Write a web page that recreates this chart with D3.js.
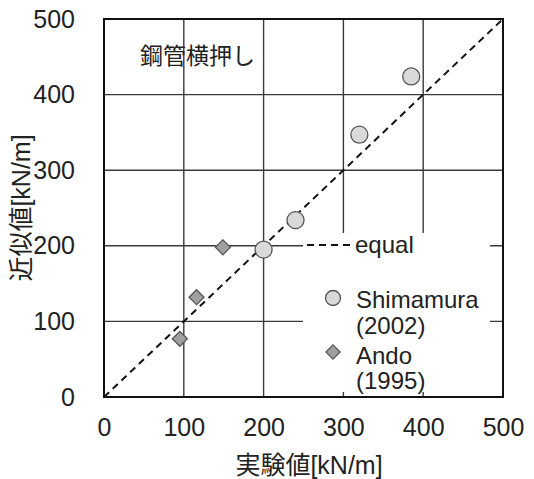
<!DOCTYPE html>
<html lang="ja">
<head>
<meta charset="UTF-8">
<title>鋼管横押し</title>
<script src="https://d3js.org/d3.v7.min.js"></script>
<style>
  body { margin: 0; background: #fff; }
  text { font-family: "Liberation Sans", Arial, "Noto Sans CJK JP", sans-serif; fill: #222; }
</style>
</head>
<body>
<div id="chart"></div>
<script>
// data
const shimamuraX = [200, 240, 320, 385];
const shimamuraY = [195, 234, 347, 424];
const andoX = [95, 116, 149];
const andoY = [77, 132, 198];
const ticks = [0, 100, 200, 300, 400, 500];
const equalLine = [0, 500];

const width = 534, height = 479;
const margin = {top: 19, right: 31, bottom: 82, left: 104};

const x = d3.scaleLinear().domain([0, 500]).range([margin.left, width - margin.right]);
const y = d3.scaleLinear().domain([0, 500]).range([height - margin.bottom, margin.top]);

const svg = d3.select("#chart").append("svg")
  .attr("width", width).attr("height", height);

// grid
const grid = svg.append("g").attr("stroke", "#3a3a3a").attr("stroke-width", 1.4);
grid.selectAll(".gx").data(ticks.slice(1, -1)).join("line")
  .attr("x1", d => x(d)).attr("x2", d => x(d))
  .attr("y1", y(0)).attr("y2", y(500));
grid.selectAll(".gy").data(ticks.slice(1, -1)).join("line")
  .attr("y1", d => y(d)).attr("y2", d => y(d))
  .attr("x1", x(0)).attr("x2", x(500));

// legend background hides the grid behind it
const lg = svg.append("g");
lg.append("rect")
  .attr("x", 303).attr("y", 233).attr("width", 187).attr("height", 159)
  .attr("fill", "#fff");

// equal line
svg.append("line")
  .attr("x1", x(equalLine[0])).attr("y1", y(equalLine[0]))
  .attr("x2", x(equalLine[1])).attr("y2", y(equalLine[1]))
  .attr("stroke", "#111").attr("stroke-width", 2)
  .attr("stroke-dasharray", "7,5");

// frame
svg.append("rect")
  .attr("x", x(0)).attr("y", y(500))
  .attr("width", x(500) - x(0)).attr("height", y(0) - y(500))
  .attr("fill", "none").attr("stroke", "#111").attr("stroke-width", 2);

// axes
const xAxis = svg.append("g")
  .attr("transform", `translate(0,${y(0)})`)
  .call(d3.axisBottom(x).tickValues(ticks).tickSize(0).tickPadding(21));
const yAxis = svg.append("g")
  .attr("transform", `translate(${x(0)},0)`)
  .call(d3.axisLeft(y).tickValues(ticks).tickSize(0).tickPadding(29));
[xAxis, yAxis].forEach(a => {
  a.select(".domain").remove();
  a.selectAll("text").attr("font-size", 25).attr("fill", "#222")
    .style("font-family", "'Liberation Sans', Arial, sans-serif");
});

// points
const circleFill = "#d9d9d9", diamondFill = "#a0a0a0", markStroke = "#555";
svg.append("g").selectAll("circle").data(shimamuraX).join("circle")
  .attr("cx", d => x(d)).attr("cy", (d, i) => y(shimamuraY[i]))
  .attr("r", 8.5).attr("fill", circleFill).attr("stroke", markStroke).attr("stroke-width", 1.3);

const diamond = d3.symbol().type(d3.symbolSquare).size(112);
svg.append("g").selectAll("path").data(andoX).join("path")
  .attr("d", diamond)
  .attr("transform", (d, i) => `translate(${x(d)},${y(andoY[i])}) rotate(45)`)
  .attr("fill", diamondFill).attr("stroke", markStroke).attr("stroke-width", 1.3);

// legend contents
lg.append("line").attr("x1", 307).attr("x2", 354).attr("y1", 245).attr("y2", 245)
  .attr("stroke", "#111").attr("stroke-width", 2).attr("stroke-dasharray", "7,5");
lg.append("text").attr("x", 355).attr("y", 253).attr("font-size", 24).text("equal");
lg.append("circle").attr("cx", 333).attr("cy", 298).attr("r", 7.5)
  .attr("fill", circleFill).attr("stroke", markStroke).attr("stroke-width", 1.3);
lg.append("text").attr("x", 356).attr("y", 308).attr("font-size", 24).text("Shimamura");
lg.append("text").attr("x", 356).attr("y", 334).attr("font-size", 24).text("(2002)");
lg.append("path").attr("d", d3.symbol().type(d3.symbolSquare).size(100))
  .attr("transform", "translate(333,352) rotate(45)")
  .attr("fill", diamondFill).attr("stroke", markStroke).attr("stroke-width", 1.3);
lg.append("text").attr("x", 356).attr("y", 364).attr("font-size", 24).text("Ando");
lg.append("text").attr("x", 356).attr("y", 389).attr("font-size", 24).text("(1995)");

// annotation and axis titles
svg.append("text").attr("x", 140).attr("y", 64).attr("font-size", 23)
  .style("font-family", "'Noto Sans CJK JP', sans-serif").text("鋼管横押し");
svg.append("text").attr("x", 309).attr("y", 474).attr("text-anchor", "middle")
  .attr("font-size", 25).text("実験値[kN/m]");
svg.append("text")
  .attr("transform", `translate(30,${(y(0) + y(500)) / 2}) rotate(-90)`)
  .attr("text-anchor", "middle").attr("font-size", 25).text("近似値[kN/m]");
</script>
</body>
</html>
